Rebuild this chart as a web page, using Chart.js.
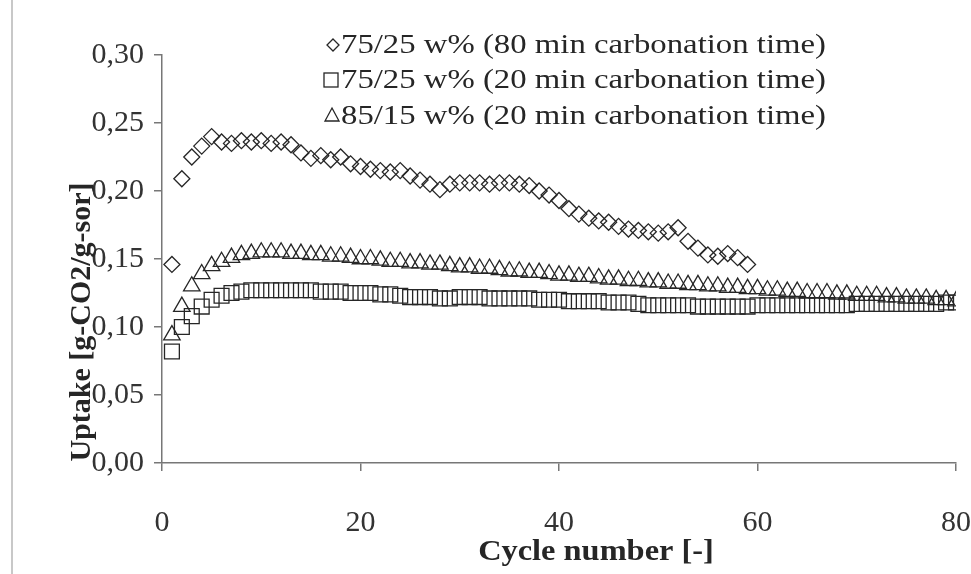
<!DOCTYPE html>
<html>
<head>
<meta charset="utf-8">
<script src="https://cdn.jsdelivr.net/npm/chart.js@4.4.1/dist/chart.umd.min.js"></script>
<style>
  body { margin: 0; background: #fff; }
  #wrap { width: 971px; height: 574px; }
</style>
</head>
<body>
<div id="wrap"><canvas id="myChart" width="971" height="574"></canvas></div>
<script>
// Dados (ciclo -> captura)
const legendLabels = [
    '75/25 w% (80 min carbonation time)',
    '75/25 w% (20 min carbonation time)',
    '85/15 w% (20 min carbonation time)'
];
const xTicks = [0, 20, 40, 60, 80];
const yTicks = [0, 0.05, 0.10, 0.15, 0.20, 0.25, 0.30];

// 75/25 w%, 80 min (ciclos 1..59)
const uptake80 = [
    0.146, 0.209, 0.225, 0.233, 0.240, 0.236, 0.235, 0.237, 0.236, 0.237,
    0.235, 0.236, 0.234, 0.228, 0.224, 0.226, 0.223, 0.225, 0.220, 0.218,
    0.216, 0.215, 0.214, 0.215, 0.211, 0.208, 0.205, 0.201, 0.205, 0.206,
    0.206, 0.206, 0.205, 0.206, 0.206, 0.205, 0.204, 0.200, 0.197, 0.193,
    0.187, 0.183, 0.180, 0.178, 0.177, 0.174, 0.172, 0.171, 0.170, 0.169,
    0.170, 0.173, 0.163, 0.158, 0.153, 0.152, 0.154, 0.151, 0.146
];
// 75/25 w%, 20 min (ciclos 1..80)
const uptake7525 = [
    0.082, 0.100, 0.108, 0.115, 0.120, 0.123, 0.125, 0.126, 0.127, 0.127,
    0.127, 0.127, 0.127, 0.127, 0.127, 0.126, 0.126, 0.126, 0.125, 0.125,
    0.125, 0.124, 0.124, 0.123, 0.122, 0.122, 0.122, 0.121, 0.121, 0.122,
    0.122, 0.122, 0.121, 0.121, 0.121, 0.121, 0.121, 0.120, 0.120, 0.120,
    0.119, 0.119, 0.119, 0.119, 0.118, 0.118, 0.118, 0.117, 0.116, 0.116,
    0.116, 0.116, 0.116, 0.115, 0.115, 0.115, 0.115, 0.115, 0.115, 0.116,
    0.116, 0.116, 0.116, 0.116, 0.116, 0.116, 0.116, 0.116, 0.116, 0.117,
    0.117, 0.117, 0.117, 0.117, 0.117, 0.117, 0.117, 0.117, 0.118, 0.118
];
// 85/15 w%, 20 min (ciclos 1..80)
const uptake8515 = [
    0.094, 0.115, 0.130, 0.139, 0.145, 0.148, 0.151, 0.153, 0.154, 0.155,
    0.155, 0.155, 0.154, 0.154, 0.153, 0.153, 0.152, 0.152, 0.151, 0.150,
    0.150, 0.149, 0.148, 0.148, 0.147, 0.147, 0.146, 0.146, 0.145, 0.144,
    0.144, 0.143, 0.143, 0.142, 0.141, 0.141, 0.140, 0.140, 0.139, 0.138,
    0.138, 0.137, 0.137, 0.136, 0.135, 0.135, 0.134, 0.134, 0.133, 0.133,
    0.132, 0.132, 0.131, 0.131, 0.130, 0.130, 0.129, 0.129, 0.128, 0.128,
    0.127, 0.127, 0.126, 0.126, 0.125, 0.125, 0.125, 0.124, 0.124, 0.123,
    0.123, 0.123, 0.122, 0.122, 0.121, 0.121, 0.121, 0.120, 0.120, 0.119
];

const toPoints = arr => arr.map((v, i) => ({ x: i + 1, y: v }));
const fontFamily = "'Liberation Serif', serif";
const ink = '#262626';

// Legenda, títulos dos eixos e a linha cinza da esquerda
const extras = {
    id: 'extras',
    afterDraw(chart) {
        const c = chart.ctx;
        c.save();
        c.strokeStyle = '#c8c8c8';
        c.lineWidth = 2;
        c.beginPath();
        c.moveTo(12, 0);
        c.lineTo(12, 574);
        c.stroke();

        // legenda
        const rows = [45, 80, 116];
        c.strokeStyle = ink;
        c.lineWidth = 1.3;
        // losango
        c.beginPath();
        c.moveTo(333, rows[0] - 6); c.lineTo(339, rows[0]); c.lineTo(333, rows[0] + 6); c.lineTo(327, rows[0]);
        c.closePath(); c.stroke();
        // quadrado
        c.strokeRect(324, rows[1] - 7, 14, 14);
        // triângulo
        c.beginPath();
        c.moveTo(332, rows[2] - 8); c.lineTo(339, rows[2] + 5); c.lineTo(325, rows[2] + 5);
        c.closePath(); c.stroke();

        c.fillStyle = ink;
        c.textBaseline = 'middle';
        c.font = '28px ' + fontFamily;
        legendLabels.forEach((t, i) => {
            c.save();
            c.translate(341, rows[i] + 1);
            c.scale(1.17, 1);
            c.fillText(t, 0, 0);
            c.restore();
        });

        // títulos
        c.font = 'bold 30px ' + fontFamily;
        c.textAlign = 'center';
        c.save();
        c.translate(596, 552);
        c.scale(1.08, 1);
        c.fillText('Cycle number [-]', 0, 0);
        c.restore();
        c.save();
        c.translate(82, 322);
        c.rotate(-Math.PI / 2);
        c.fillText('Uptake [g-CO2/g-sor]', 0, 0);
        c.restore();
        c.restore();
    }
};

const config = {
    type: 'scatter',
    data: {
        datasets: [
            {
                label: legendLabels[0],
                data: toPoints(uptake80),
                pointStyle: 'rectRot',
                pointRadius: 8,
                borderColor: ink,
                borderWidth: 1.3,
                backgroundColor: 'rgba(255,255,255,0)'
            },
            {
                label: legendLabels[1],
                data: toPoints(uptake7525),
                pointStyle: 'rect',
                pointRadius: 10.5,
                borderColor: ink,
                borderWidth: 1.3,
                backgroundColor: 'rgba(255,255,255,0)'
            },
            {
                label: legendLabels[2],
                data: toPoints(uptake8515),
                pointStyle: 'triangle',
                pointRadius: 9.5,
                borderColor: ink,
                borderWidth: 1.3,
                backgroundColor: 'rgba(255,255,255,0)'
            }
        ]
    },
    options: {
        responsive: false,
        animation: false,
        layout: { padding: { left: 0, top: 55, right: 0, bottom: 0 } },
        scales: {
            x: {
                type: 'linear',
                min: 0,
                max: 80,
                afterFit: s => { s.height = 111; s.paddingRight = 15; s.paddingLeft = 0; },
                afterBuildTicks: s => { s.ticks = xTicks.map(v => ({ value: v })); },
                grid: { drawOnChartArea: false, drawTicks: true, tickLength: 8, color: '#777', lineWidth: 1.5 },
                border: { display: true, color: '#777', width: 1.5 },
                ticks: {
                    color: '#333',
                    padding: 34,
                    maxRotation: 0,
                    font: { family: fontFamily, size: 30 }
                }
            },
            y: {
                min: 0,
                max: 0.30,
                afterFit: s => { s.width = 162; },
                afterBuildTicks: s => { s.ticks = yTicks.map(v => ({ value: v })); },
                grid: { drawOnChartArea: false, drawTicks: true, tickLength: 8, color: '#777', lineWidth: 1.5 },
                border: { display: true, color: '#777', width: 1.5 },
                ticks: {
                    color: '#333',
                    padding: 10,
                    font: { family: fontFamily, size: 30 },
                    callback: v => v.toFixed(2).replace('.', ',')
                }
            }
        },
        plugins: {
            legend: { display: false },
            tooltip: { enabled: false }
        }
    },
    plugins: [extras]
};

// Espera a fonte local antes de desenhar
Promise.all([
    document.fonts.load("30px 'Liberation Serif'"),
    document.fonts.load("bold 30px 'Liberation Serif'")
]).catch(() => {}).then(() => {
    new Chart(document.getElementById('myChart').getContext('2d'), config);
});
</script>
</body>
</html>
